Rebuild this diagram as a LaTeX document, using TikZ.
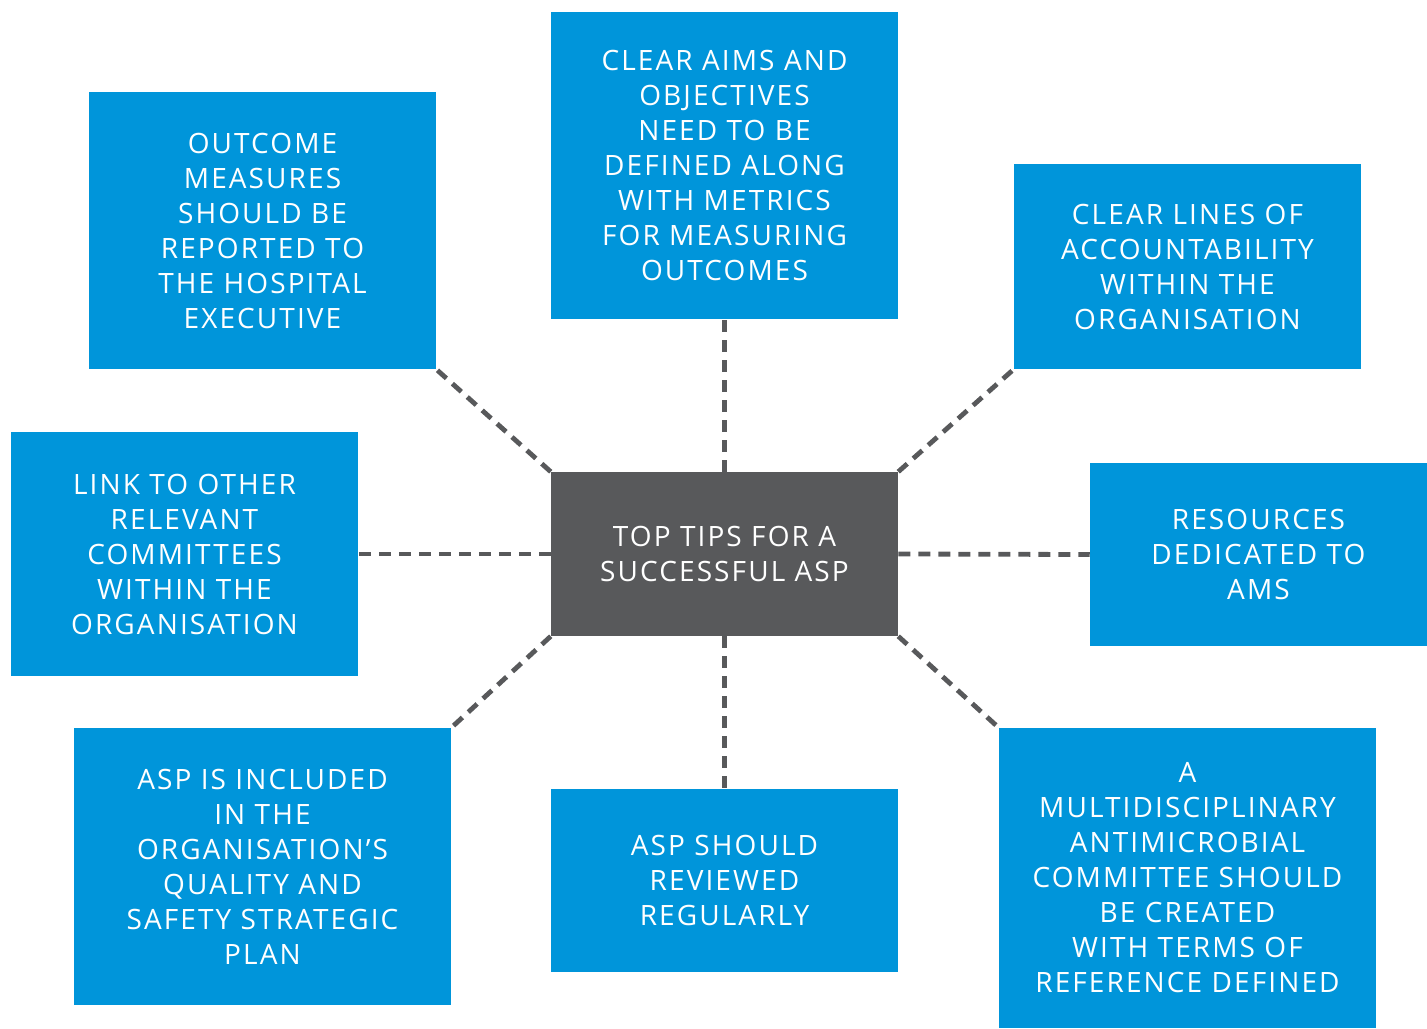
\documentclass[tikz,border=0pt]{standalone}
\usepackage{fontspec}
\setmainfont{Open Sans}[LetterSpace=7.5]
\definecolor{boxblue}{HTML}{0095DA}
\definecolor{boxgray}{HTML}{58595B}
\begin{document}
\begin{tikzpicture}[x=0.75pt,y=-0.75pt,
  tip/.style={fill=boxblue,text=white,align=center,inner sep=0pt,
    font=\fontsize{21}{26.25}\selectfont,
    execute at begin node={\rule{0pt}{23.5pt}}},
  hub/.style={tip,fill=boxgray},
  link/.style={draw=boxgray,line width=3.6pt,dash pattern=on 9pt off 6pt}]
\useasboundingbox (0,0) rectangle (1427,1028);
% boxes: positions from px rectangles
\node[hub,minimum width=347*0.75pt,minimum height=164*0.75pt] (c) at (724.5,554) {TOP TIPS FOR A\\SUCCESSFUL ASP};
\node[tip,minimum width=347*0.75pt,minimum height=307*0.75pt] (t) at (724.5,165.5) {CLEAR AIMS AND\\OBJECTIVES\\NEED TO BE\\DEFINED ALONG\\WITH METRICS\\FOR MEASURING\\OUTCOMES};
\node[tip,minimum width=347*0.75pt,minimum height=277*0.75pt] (tl) at (262.5,230.5) {OUTCOME\\MEASURES\\SHOULD BE\\REPORTED TO\\THE HOSPITAL\\EXECUTIVE};
\node[tip,minimum width=347*0.75pt,minimum height=205*0.75pt] (tr) at (1187.5,266.5) {CLEAR LINES OF\\ACCOUNTABILITY\\WITHIN THE\\ORGANISATION};
\node[tip,minimum width=347*0.75pt,minimum height=244*0.75pt] (l) at (184.5,554) {LINK TO OTHER\\RELEVANT\\COMMITTEES\\WITHIN THE\\ORGANISATION};
\node[tip,minimum width=337*0.75pt,minimum height=183*0.75pt] (r) at (1258.5,554.5) {RESOURCES\\DEDICATED TO\\AMS};
\node[tip,minimum width=377*0.75pt,minimum height=277*0.75pt] (bl) at (262.5,866.5) {ASP IS INCLUDED\\IN THE\\ORGANISATION’S\\QUALITY AND\\SAFETY STRATEGIC\\PLAN};
\node[tip,minimum width=347*0.75pt,minimum height=183*0.75pt] (b) at (724.5,880.5) {ASP SHOULD\\REVIEWED\\REGULARLY};
\node[tip,minimum width=377*0.75pt,minimum height=300*0.75pt] (br) at (1187.5,878) {A\\MULTIDISCIPLINARY\\ANTIMICROBIAL\\COMMITTEE SHOULD\\BE CREATED\\WITH TERMS OF\\REFERENCE DEFINED};
% connectors
\draw[link] (c.north) -- (t.south);
\draw[link] (c.south) -- (b.north);
\draw[link] (c.west) -- (l.east);
\draw[link] (c.east) -- (r.west);
\draw[link] (c.north west) -- (tl.south east);
\draw[link] (c.north east) -- (tr.south west);
\draw[link] (c.south west) -- (bl.north east);
\draw[link] (c.south east) -- (br.north west);
\end{tikzpicture}
\end{document}
